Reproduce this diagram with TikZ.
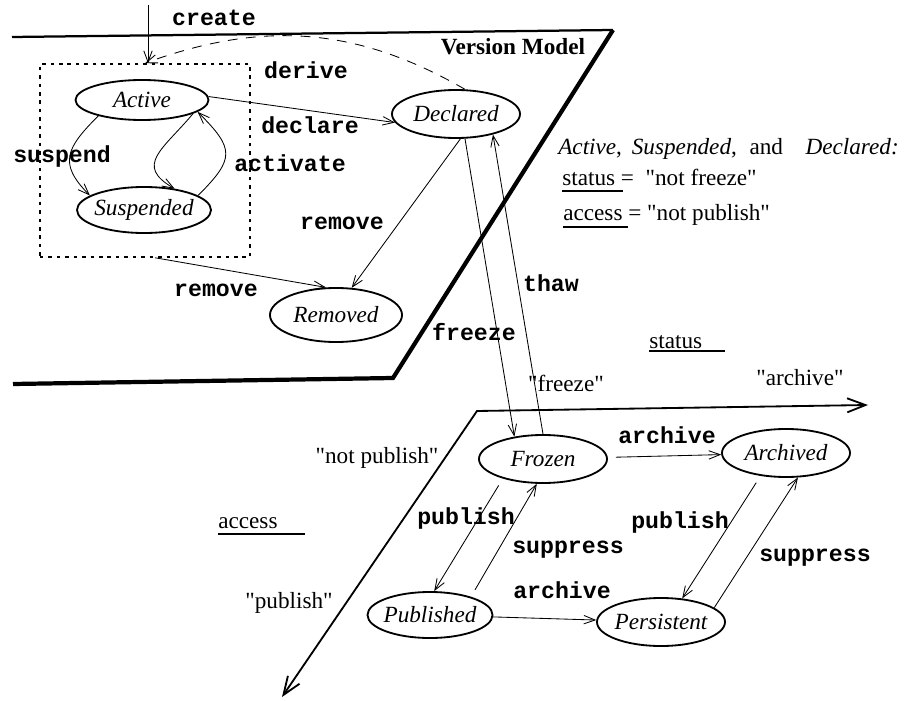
\documentclass[tikz,border=0pt]{standalone}
\usepackage{fontspec}
\setmainfont{Liberation Serif}[Ligatures=TeXOff]
\setmonofont{Liberation Mono}
\usepackage{tikz}
\usetikzlibrary{arrows.meta, shapes.geometric, calc}
\newcommand{\lblsize}{\fontsize{16.5}{19}\selectfont}

\begin{document}
\begin{tikzpicture}[x=0.025cm, y=0.025cm,
      st/.style={draw, ellipse, line width=1.3pt, minimum width=3.2cm, minimum height=1.2cm,
                 inner xsep=-2.2pt, inner ysep=0pt, font=\lblsize\itshape},
      tr/.style={font=\lblsize\ttfamily\bfseries, inner sep=1pt},
      txt/.style={font=\lblsize, inner sep=0pt},
      ed/.style={-{Straight Barb[length=8pt, width=6pt]}, line width=0.6pt},
      gapped/.style={shorten <=2mm}]
    \useasboundingbox (0,0) rectangle (909,700);
    % the two planes
    \draw[line width=1.6pt] (12,663) -- (613,670);
    \draw[line width=3pt] (613,670) -- (393,322) -- (13,316);
    \draw[line width=1.3pt, {Straight Barb[length=13pt, width=10pt]}-{Straight Barb[length=13pt, width=10pt]}]
      (282,3) -- (477,289) -- (868,295);
    \node[font=\lblsize\bfseries] (vm) at (513,653) {Version Model};
    % states
    \node[draw, dash pattern=on 2.5pt off 3.5pt, line width=1.1pt, minimum width=5.25cm,
          minimum height=4.825cm, inner sep=0pt] (grp) at (145,539.5) {};
    \node[st, minimum width=3.325cm, minimum height=1.0cm] (act) at (142,600) {Active};
    \node[st, minimum width=3.35cm, minimum height=1.15cm] (sus) at (144,490) {Suspended};
    \node[st] (dec) at (456,586) {Declared};
    \node[st, minimum width=3.3cm, minimum height=1.35cm] (rem) at (336,385) {Removed};
    \node[st] (frz) at (543,241) {Frozen};
    \node[st] (arc) at (786,247) {Archived};
    \node[st, minimum width=3.125cm, minimum height=1.15cm] (pub) at (430,85) {Published};
    \node[st] (per) at (661,78) {Persistent};
    \coordinate (c0) at (148,695);
    % transitions
    \draw[ed] (c0) -- (c0 |- grp.north);
    \draw[ed, dash pattern=on 7pt off 6pt] (dec.70) to[out=150, in=20] (grp.north);
    \draw[ed] (act.3) -- (dec.188);
    \draw[ed] (act.200) to[out=225, in=135, looseness=1.45] (sus.165);
    \draw[ed] (act.-15) to[out=230, in=150, looseness=1.55] (sus.35);
    \draw[ed] (sus.15) to[out=45, in=315, looseness=1.6] (act.-12);
    \draw[ed] (dec.280) -- (rem.60);
    \draw[ed] (grp.-84) -- (rem.110);
    \draw[ed] (dec.290) -- (frz.142);
    \draw[ed] (frz.90) -- (dec.-29);
    \draw[ed, gapped] (frz) -- (arc);
    \draw[ed, gapped] (frz.206) -- (pub.80);
    \draw[ed, gapped] (pub.24) -- (frz.256);
    \draw[ed] (pub) -- (per);
    \draw[ed, gapped] (arc.222) -- (per.48);
    \draw[ed] (per.15) -- (arc.-64);
    % transition labels
    \node[tr] (lcre) at (214,682) {create};
    \node[tr] (lder) at (306,630) {derive};
    \node[tr] (ldec) at (310,575) {declare};
    \node[tr] (lsus) at (62,543) {suspend};
    \node[tr] (lact) at (290,537) {activate};
    \node[tr] (lrm1) at (342,477) {remove};
    \node[tr] (lrm2) at (216,410) {remove};
    \node[tr] (lthw) at (551,417) {thaw};
    \node[tr] (lfrz) at (474,368) {freeze};
    \node[tr] (larc1) at (667,265) {archive};
    \node[tr] (lpub1) at (466,182) {publish};
    \node[tr] (lsup1) at (568,150) {suppress};
    \node[tr] (larc2) at (562,110) {archive};
    \node[tr] (lpub2) at (680,178) {publish};
    \node[tr] (lsup2) at (815,142) {suppress};
    % axis values
    \node[txt] (qarc) at (800,322) {"archive"};
    \node[txt] (qfrz) at (566,317) {"freeze"};
    \node[txt] (qnp) at (377,242) {"not publish"};
    \node[txt] (qpub) at (289,97) {"publish"};
    \node[txt, anchor=base west] (sts) at (649,352) {status};
    \draw[line width=0.9pt] ($(sts.base west)+(0,-3)$) -- ++(76,0);
    \node[txt, anchor=base west] (acc) at (218,172) {access};
    \draw[line width=0.9pt] ($(acc.base west)+(0,-6)$) -- ++(87,0);
    % note
    \node[txt, anchor=base west] (n1) at (558,545)
      {\textit{Active},\hspace{7pt}\textit{Suspended},\hspace{9pt}and\hspace{16pt}\textit{Declared:}};
    \node[txt, anchor=base west] (n2) at (562,514) {status =\ \ "not freeze"};
    \draw[line width=0.9pt] ($(n2.base west)+(0,-5)$) -- ++(61,0);
    \node[txt, anchor=base west] (n3) at (563,479) {access = "not publish"};
    \draw[line width=0.9pt] ($(n3.base west)+(0,-6)$) -- ++(65,0);
\end{tikzpicture}
\end{document}
